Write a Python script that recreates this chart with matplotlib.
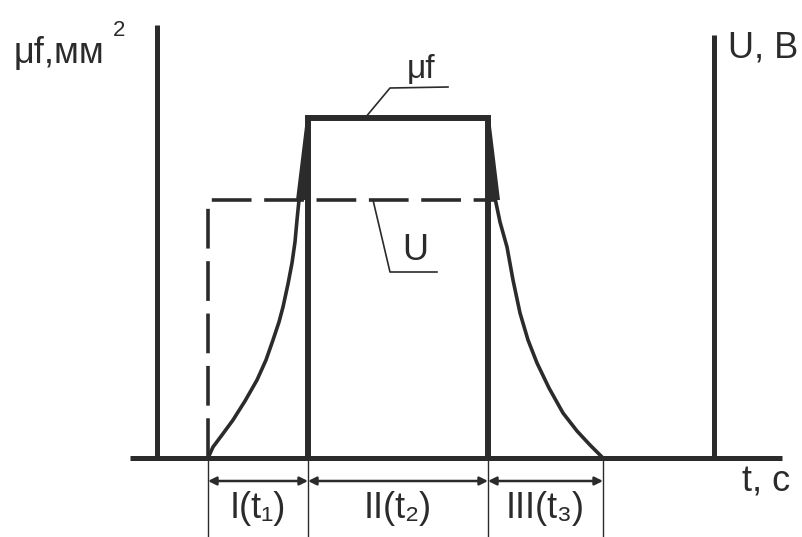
import matplotlib
matplotlib.use("Agg")
import matplotlib.pyplot as plt
from matplotlib.patches import Polygon

# schematic units: t along the x axis, value up the y axis
rise_t = [5.1, 5.6, 6.5, 7.6, 8.8, 10.0, 10.9, 11.6, 12.2, 12.6, 13.1, 13.5, 13.8, 14.0, 14.2]
rise_v = [0.0, 1.1, 2.3, 3.8, 5.7, 7.8, 9.8, 11.8, 13.6, 15.1, 17.4, 19.5, 21.6, 23.8, 25.8]

fall_t = [33.8, 34.3, 35.0, 35.6, 36.3, 37.1, 38.0, 39.2, 40.6, 42.0, 43.3, 44.6]
fall_v = [26.0, 23.6, 21.1, 17.8, 14.5, 11.8, 9.5, 7.0, 4.5, 2.7, 1.3, 0.0]

u_level = 25.8
u_start, u_end = 5.1, 33.7

mu_level = 34.0
mu_left, mu_right = 15.1, 33.1
mu_ramp_left, mu_ramp_right = 13.9, 34.3

stage_edges = [5.1, 15.1, 33.1, 44.6]
stage_labels = ["I(t\u2081)", "II(t\u2082)", "III(t\u2083)"]

ink = "#2b2b2b"
fam = ["Liberation Sans", "DejaVu Sans"]

fig = plt.figure(figsize=(8.02, 5.37), dpi=100)
ax = fig.add_axes([0, 0, 1, 1])
ax.set_xlim(-15.7, 64.5)
ax.set_ylim(-7.9, 45.8)
ax.axis("off")

# axes of the diagram
ax.plot([-2.7, 62.5], [0, 0], color=ink, lw=3.6, solid_capstyle="butt")
ax.plot([0, 0], [0, 43.3], color=ink, lw=3.6, solid_capstyle="butt")
ax.plot([55.7, 55.7], [0, 42.3], color=ink, lw=3.6, solid_capstyle="butt")

# U (dashed)
ax.plot([u_start, u_start, u_end], [0, u_level, u_level], color=ink, lw=2.6,
        dashes=(11, 3.5), dash_capstyle="butt")

# muf curves
ax.plot(rise_t, rise_v, color=ink, lw=2.6, solid_capstyle="round")
ax.plot(fall_t, fall_v, color=ink, lw=2.6, solid_capstyle="round")
ax.plot([mu_left, mu_left, mu_right, mu_right], [0, mu_level, mu_level, 0],
        color=ink, lw=4.3, solid_joinstyle="miter", solid_capstyle="butt")
ax.add_patch(Polygon([(mu_ramp_left, u_level), (mu_left - 0.2, mu_level),
                      (mu_left + 0.2, mu_level), (mu_left + 0.2, u_level)],
                     closed=True, color=ink, lw=0))
ax.add_patch(Polygon([(mu_right - 0.2, mu_level), (mu_right + 0.2, mu_level),
                      (mu_ramp_right, u_level), (mu_right - 0.2, u_level)],
                     closed=True, color=ink, lw=0))

# leaders and curve labels
ax.plot([20.8, 23.3, 29.1], [34.0, 37.0, 37.1], color=ink, lw=1.2)
ax.text(26.4, 37.3, "\u03bcf", fontsize=24, family=fam, color=ink,
        ha="center", va="bottom")
ax.plot([21.6, 23.3, 28.0], [25.8, 18.6, 18.6], color=ink, lw=1.2)
ax.text(25.8, 20.8, "U", fontsize=26, family=fam, color=ink,
        ha="center", va="center")

# stage dimensions
for x in stage_edges:
    ax.plot([x, x], [0, -7.9], color=ink, lw=1.0)
for a, b, lab in zip(stage_edges[:-1], stage_edges[1:], stage_labels):
    ax.annotate("", xy=(a, -2.3), xytext=(b, -2.3),
                arrowprops=dict(arrowstyle="<|-|>", color=ink, lw=1.8,
                                mutation_scale=12, shrinkA=0, shrinkB=0))
    ax.text((a + b) / 2, -5.1, lab, fontsize=26, family=fam, color=ink,
            ha="center", va="center")

# axis titles
ax.text(-14.3, 40.5, "\u03bcf,мм", fontsize=26, family=fam, color=ink,
        ha="left", va="center")
ax.text(-4.4, 42.7, "2", fontsize=16, family=fam, color=ink,
        ha="left", va="center")
ax.text(57.1, 41.0, "U, В", fontsize=26, family=fam, color=ink,
        ha="left", va="center")
ax.text(58.5, -2.4, "t, с", fontsize=26, family=fam, color=ink,
        ha="left", va="center")

fig.savefig("out.png", dpi=100)
